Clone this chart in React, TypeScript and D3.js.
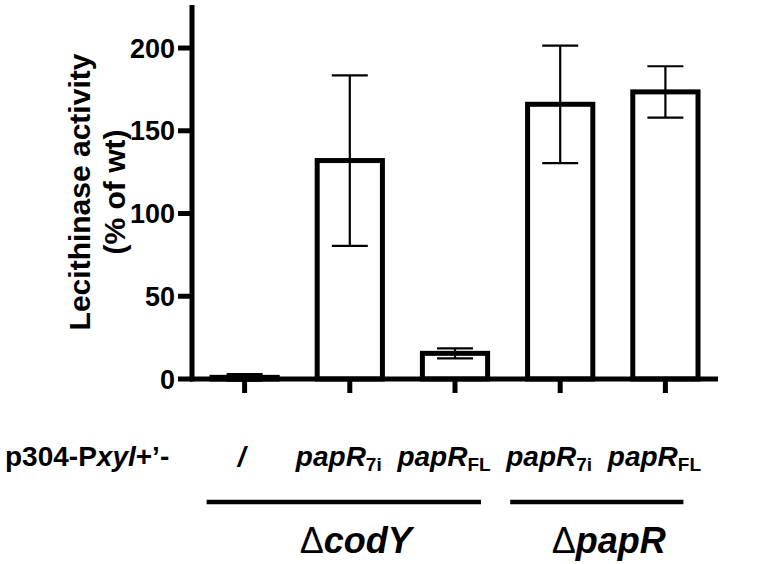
import * as d3 from "d3";

// categories along the x axis (main italic part + subscript)
const labels = ["/", "papR", "papR", "papR", "papR"];
const subs = ["", "7i", "FL", "7i", "FL"];
const means = [1, 132, 15.5, 166, 173.5];
const errs = [2, 51.5, 3, 35.5, 15.5];
const yTicks = [0, 50, 100, 150, 200];
const groups = [
  { name: "codY", from: 0, to: 2 },
  { name: "papR", from: 3, to: 4 },
];

const W = 758;
const H = 564;
const font = "'Liberation Sans', Arial, Helvetica, sans-serif";

const App = () => {
  const x = d3
    .scaleBand<number>()
    .domain(d3.range(means.length))
    .range([192, 718])
    .paddingInner(0.38)
    .paddingOuter(0.19);

  const y = d3.scaleLinear().domain([0, 226]).range([379, 5]);

  const bw = x.bandwidth();
  const cx = (i) => (x(i) as number) + bw / 2;

  return (
    <svg
      width={W}
      height={H}
      style={{ position: "absolute", left: 0, top: 0, background: "#fff" }}
      fontFamily={font}
      fontWeight="bold"
    >
      {/* y axis title */}
      <g transform={"translate(90," + y(113) + ") rotate(-90)"}>
        <text textAnchor="middle" fontSize={30}>
          Lecithinase activity
        </text>
        <text textAnchor="middle" fontSize={30} y={35}>
          (% of wt)
        </text>
      </g>

      {/* bars */}
      {means.map((m, i) => (
        <rect
          key={"b" + i}
          x={x(i)}
          y={y(m)}
          width={bw}
          height={y(0) - y(m)}
          fill="#fff"
          stroke="#000"
          strokeWidth={5}
        />
      ))}

      {/* error bars */}
      {means.map((m, i) => (
        <g key={"e" + i} stroke="#000" strokeWidth={2.2}>
          <line x1={cx(i)} x2={cx(i)} y1={y(m + errs[i])} y2={y(Math.max(0, m - errs[i]))} />
          <line x1={cx(i) - 18} x2={cx(i) + 18} y1={y(m + errs[i])} y2={y(m + errs[i])} />
          <line x1={cx(i) - 18} x2={cx(i) + 18} y1={y(m - errs[i])} y2={y(m - errs[i])} />
        </g>
      ))}

      {/* y axis */}
      <line x1={192} x2={192} y1={y.range()[1]} y2={y(0) + 2.5} stroke="#000" strokeWidth={5} />
      {yTicks.map((t) => (
        <g key={"yt" + t}>
          <line x1={178} x2={192} y1={y(t)} y2={y(t)} stroke="#000" strokeWidth={5} />
          <text x={175} y={y(t)} dy="0.36em" textAnchor="end" fontSize={27}>
            {t}
          </text>
        </g>
      ))}

      {/* x axis */}
      <line x1={190} x2={718} y1={y(0)} y2={y(0)} stroke="#000" strokeWidth={5} />
      {means.map((m, i) => (
        <line key={"xt" + i} x1={cx(i)} x2={cx(i)} y1={y(0)} y2={y(0) + 14} stroke="#000" strokeWidth={5} />
      ))}

      {/* construct labels */}
      <text x={5} y={466} fontSize={28}>
        p304-P<tspan fontStyle="italic">xyl</tspan>+’-
      </text>
      {labels.map((l, i) => (
        <text
          key={"l" + i}
          x={cx(i) - (subs[i] ? 11 : 3)}
          y={466}
          textAnchor="middle"
          fontSize={28}
        >
          <tspan fontStyle="italic">{l}</tspan>
          {subs[i] && (
            <tspan fontSize={19} dy={5}>
              {subs[i]}
            </tspan>
          )}
        </text>
      ))}

      {/* strain groups */}
      {groups.map((g, k) => {
        const x1 = k === 0 ? cx(g.from) - 38 : cx(g.from) - 50;
        const x2 = k === 0 ? cx(g.to) + 26 : cx(g.to) + 18;
        return (
          <g key={"g" + k}>
            <line x1={x1} x2={x2} y1={502} y2={502} stroke="#000" strokeWidth={4.5} />
            <text x={(x1 + x2) / 2 + 12} y={553} textAnchor="middle" fontSize={36}>
              <tspan fontWeight="normal">Δ</tspan>
              <tspan fontStyle="italic">{g.name}</tspan>
            </text>
          </g>
        );
      })}
    </svg>
  );
};

export default App;
